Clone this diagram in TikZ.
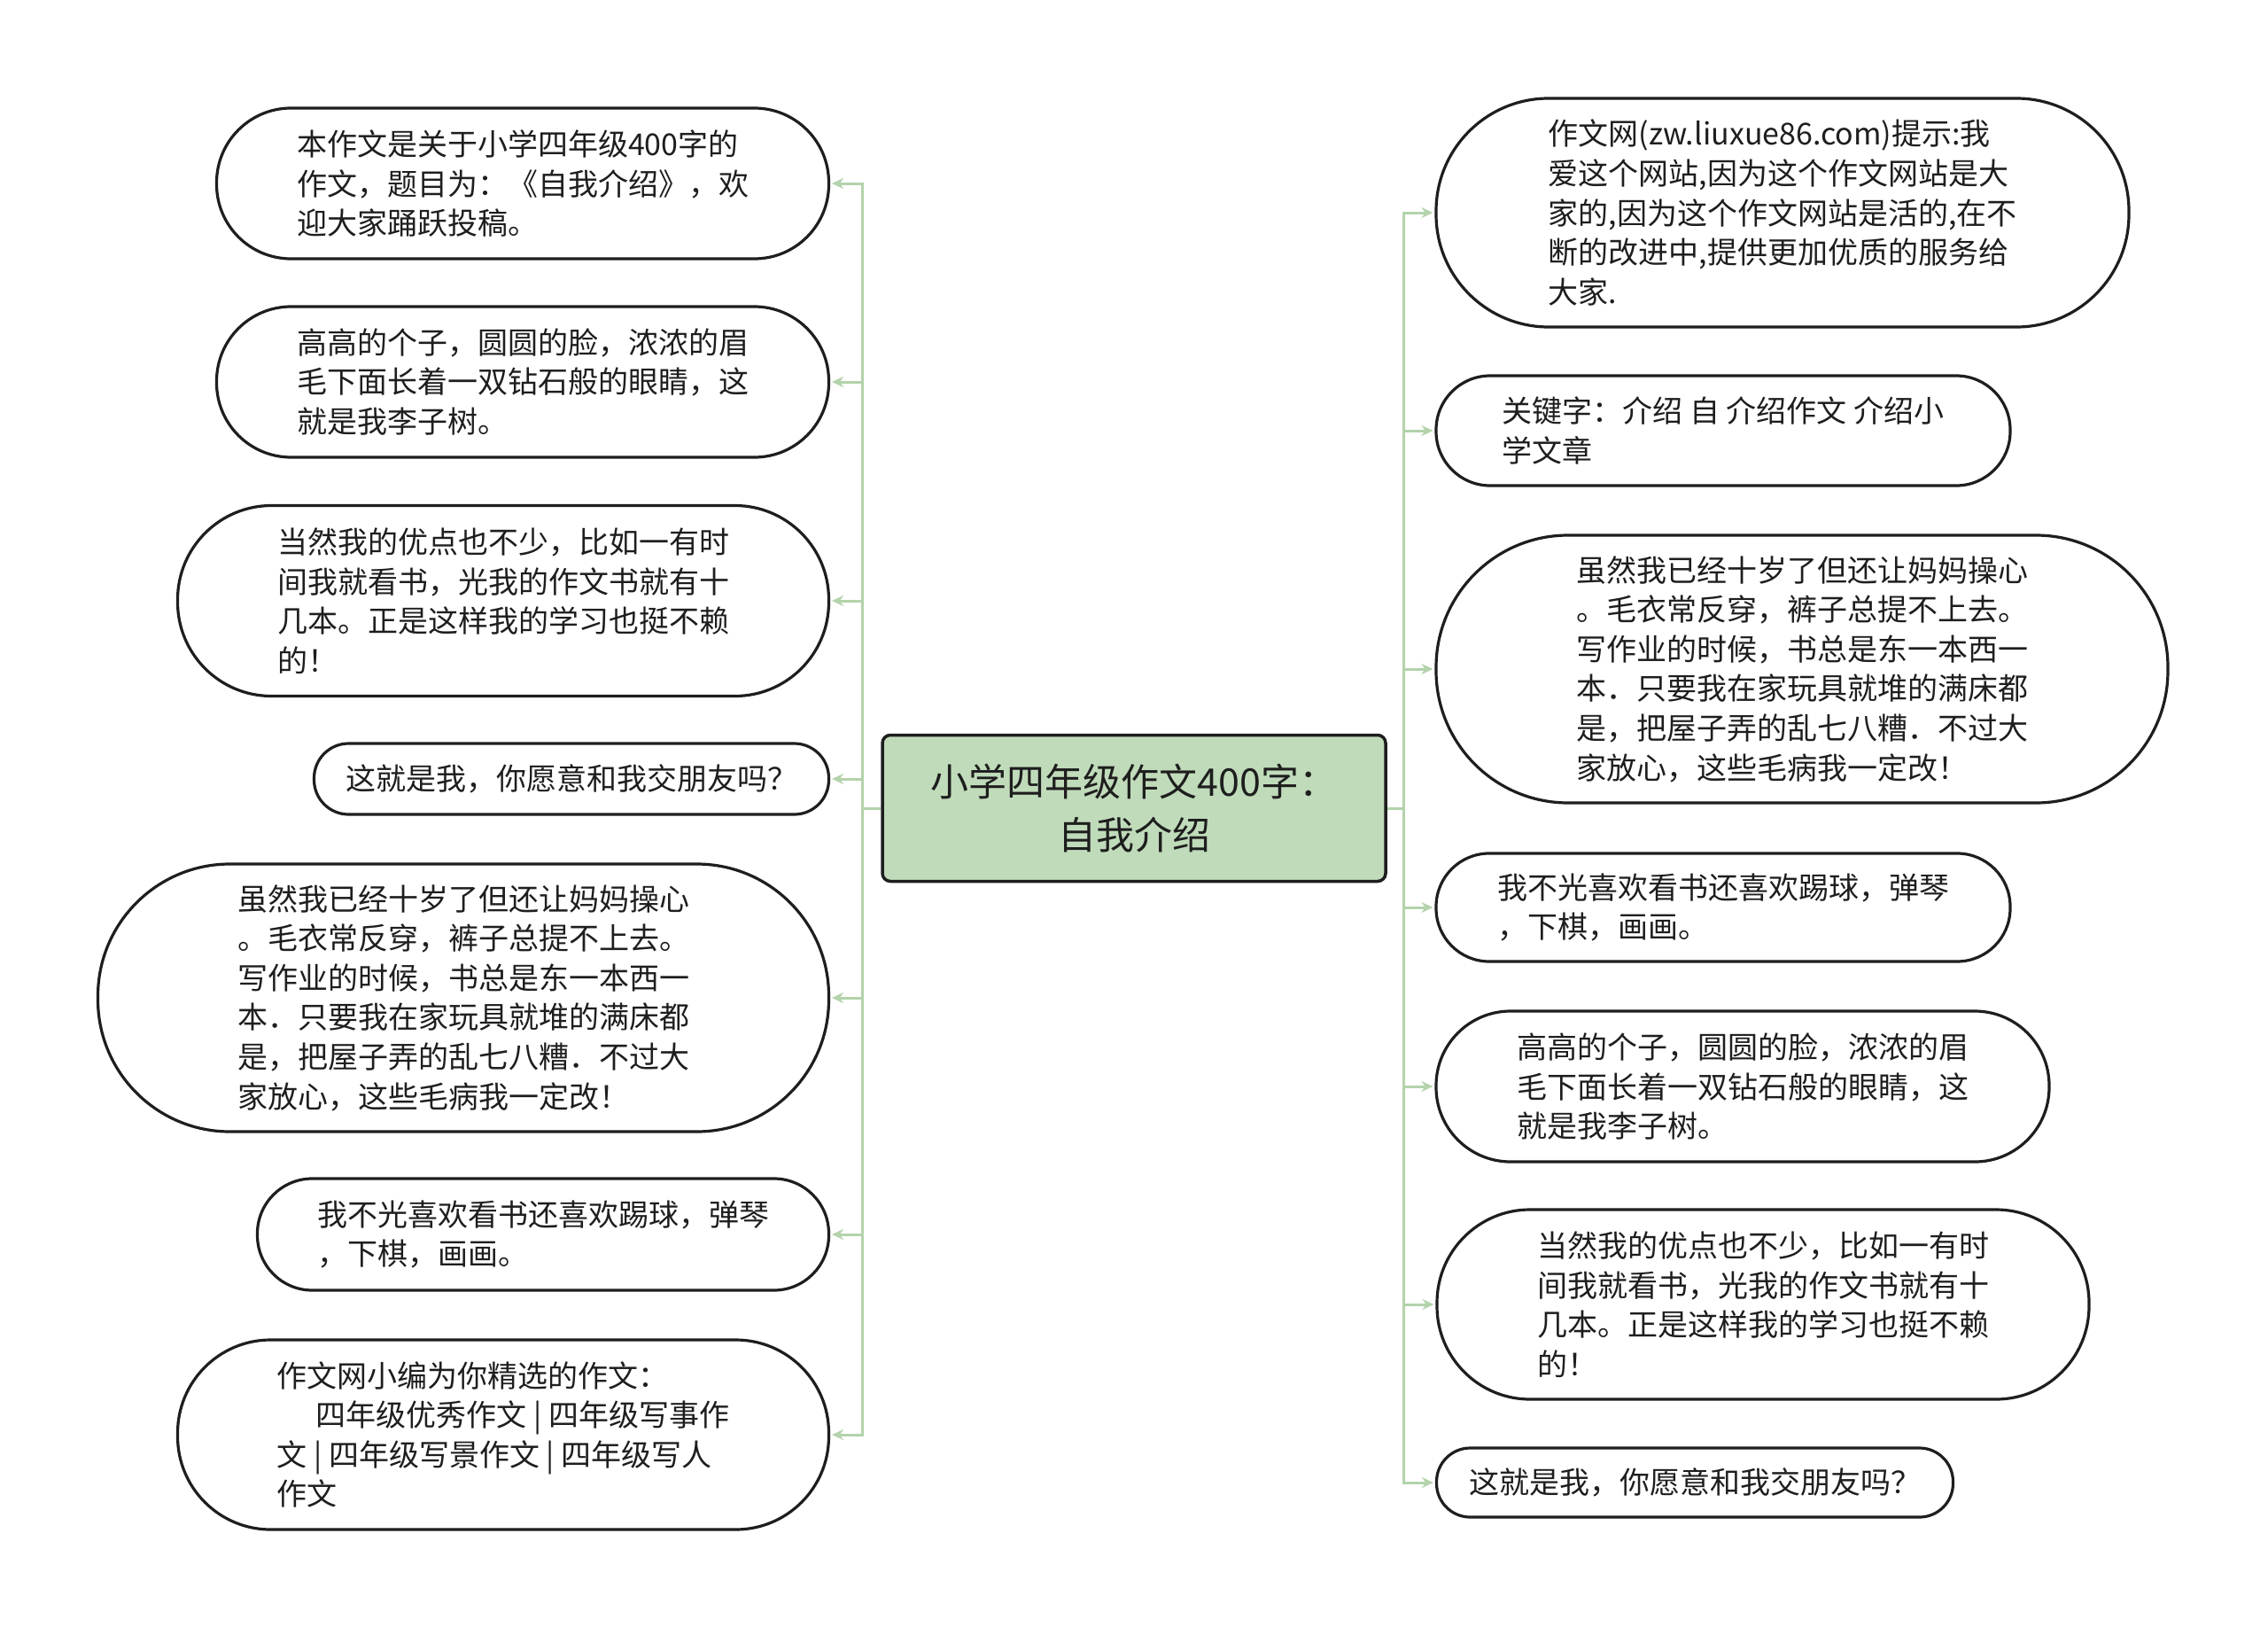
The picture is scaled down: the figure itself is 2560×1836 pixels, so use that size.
\documentclass[tikz,border=0pt]{standalone}
\usepackage{fontspec}
\setmainfont{Noto Sans CJK SC}
\usetikzlibrary{arrows.meta}
\definecolor{linkc}{HTML}{B3D3AB}
\definecolor{rootfill}{HTML}{C0DBBA}
\definecolor{inkc}{HTML}{1E1E1E}
\tikzset{
  leaf/.style={draw=inkc, line width=3.2pt, fill=white, align=left, text=inkc,
    inner sep=0pt, font=\fontsize{34pt}{44.6pt}\selectfont},
  rootbox/.style={draw=inkc, line width=3.5pt, fill=rootfill, align=center, text=inkc,
    rounded corners=9pt, inner sep=0pt, font=\fontsize{43pt}{60pt}\selectfont},
  conn/.style={draw=linkc, line width=3pt, -{Stealth[length=13pt,width=12pt]}},
  connplain/.style={draw=linkc, line width=3pt}
}
\begin{document}
\begin{tikzpicture}[x=1pt,y=1pt]
\useasboundingbox (0,0) rectangle (2560,-1836);
\fill[white] (0,0) rectangle (2560,-1836);

% root
\node[rootbox, minimum width=568pt, minimum height=165pt] (c) at (1280,-912)
  {小学四年级作文400字：\\自我介绍};

% left leaves
\node[leaf, minimum width=691pt, minimum height=170pt, rounded corners=84pt] (l1) at (590,-207)
  {本作文是关于小学四年级400字的\\作文，题目为：《自我介绍》，欢\\迎大家踊跃投稿。};
\node[leaf, minimum width=691pt, minimum height=170pt, rounded corners=84pt] (l2) at (590,-431)
  {高高的个子，圆圆的脸，浓浓的眉\\毛下面长着一双钻石般的眼睛，这\\就是我李子树。};
\node[leaf, minimum width=735pt, minimum height=215pt, rounded corners=106pt] (l3) at (568,-678)
  {当然我的优点也不少，比如一有时\\间我就看书，光我的作文书就有十\\几本。正是这样我的学习也挺不赖\\的！};
\node[leaf, minimum width=581pt, minimum height=80pt, rounded corners=39pt] (l4) at (645,-879)
  {这就是我，你愿意和我交朋友吗？};
\node[leaf, minimum width=825pt, minimum height=302pt, rounded corners=149pt] (l5) at (523,-1126)
  {虽然我已经十岁了但还让妈妈操心\\。毛衣常反穿，裤子总提不上去。\\写作业的时候，书总是东一本西一\\本．只要我在家玩具就堆的满床都\\是，把屋子弄的乱七八糟．不过大\\家放心，这些毛病我一定改！};
\node[leaf, minimum width=645pt, minimum height=126pt, rounded corners=62pt] (l6) at (613,-1393)
  {我不光喜欢看书还喜欢踢球，弹琴\\，下棋，画画。};
\node[leaf, minimum width=735pt, minimum height=214pt, rounded corners=105pt] (l7) at (568,-1619)
  {作文网小编为你精选的作文：\\\hspace*{1.3em}四年级优秀作文 | 四年级写事作\\文 | 四年级写景作文 | 四年级写人\\作文};

% right leaves
\node[leaf, minimum width=782pt, minimum height=258pt, rounded corners=127pt] (r1) at (2012,-240)
  {作文网(zw.liuxue86.com)提示:我\\爱这个网站,因为这个作文网站是大\\家的,因为这个作文网站是活的,在不\\断的改进中,提供更加优质的服务给\\大家.};
\node[leaf, minimum width=648pt, minimum height=124pt, rounded corners=61pt] (r2) at (1945,-486)
  {关键字：介绍 自 介绍作文 介绍小\\学文章};
\node[leaf, minimum width=826pt, minimum height=302pt, rounded corners=149pt] (r3) at (2034,-755)
  {虽然我已经十岁了但还让妈妈操心\\。毛衣常反穿，裤子总提不上去。\\写作业的时候，书总是东一本西一\\本．只要我在家玩具就堆的满床都\\是，把屋子弄的乱七八糟．不过大\\家放心，这些毛病我一定改！};
\node[leaf, minimum width=648pt, minimum height=122pt, rounded corners=60pt] (r4) at (1945,-1024)
  {我不光喜欢看书还喜欢踢球，弹琴\\，下棋，画画。};
\node[leaf, minimum width=692pt, minimum height=170pt, rounded corners=84pt] (r5) at (1967,-1226)
  {高高的个子，圆圆的脸，浓浓的眉\\毛下面长着一双钻石般的眼睛，这\\就是我李子树。};
\node[leaf, minimum width=736pt, minimum height=214pt, rounded corners=105pt] (r6) at (1990,-1472)
  {当然我的优点也不少，比如一有时\\间我就看书，光我的作文书就有十\\几本。正是这样我的学习也挺不赖\\的！};
\node[leaf, minimum width=583pt, minimum height=78pt, rounded corners=38pt] (r7) at (1913,-1673)
  {这就是我，你愿意和我交朋友吗？};

% trunks
\coordinate (lt) at (973,-912);
\coordinate (rt) at (1584,-912);
\draw[connplain] (c.west) -- (lt);
\draw[connplain] (c.east) -- (rt);
\foreach \n in {l1,l2,l3,l4,l5,l6,l7}
  \draw[conn] (lt) |- ([xshift=2pt]\n.east);
\foreach \n in {r1,r2,r3,r4,r5,r6,r7}
  \draw[conn] (rt) |- ([xshift=-2pt]\n.west);
\end{tikzpicture}
\end{document}
